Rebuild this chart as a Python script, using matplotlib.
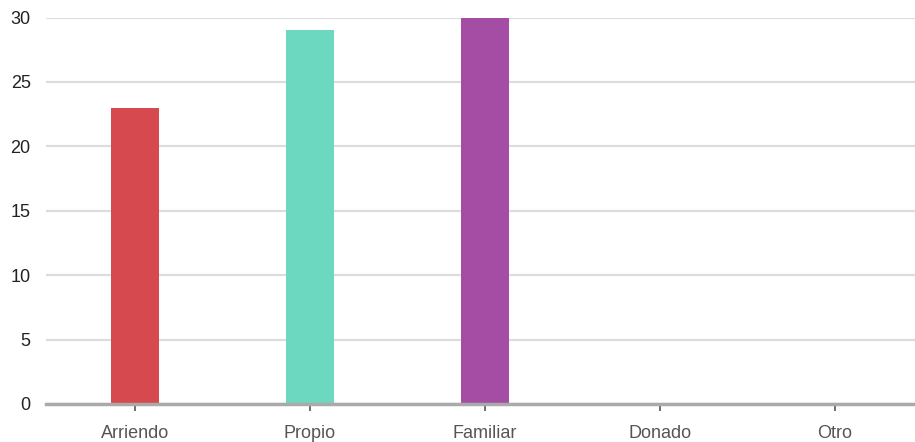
import matplotlib
matplotlib.use("Agg")
import matplotlib.pyplot as plt

categories = ["Arriendo", "Propio", "Familiar", "Donado", "Otro"]
values = [23, 29, 30, 0, 0]
colors = ["#d64a4f", "#6cd8c0", "#a54ca5", "#3366cc", "#ff9900"]
yticks = [0, 5, 10, 15, 20, 25, 30]

plt.rcParams['font.family'] = ['Liberation Sans', 'DejaVu Sans']
fig = plt.figure(figsize=(9.15, 4.42), dpi=100)
ax = fig.add_axes([46/915, 1-404/442, 1-46/915, (404-17.5)/442])

x = list(range(len(categories)))
ax.bar(x, values, width=0.275, color=colors, zorder=3)

ax.set_xlim(-0.509, 4.457)
ax.set_ylim(0, 30)
ax.set_yticks(yticks)
ax.set_xticks(x)
ax.set_xticklabels(categories, color="#555555", fontsize=13)
ax.set_yticklabels([str(v) for v in yticks], color="#222222", fontsize=13)

ax.grid(axis='y', color="#dddddd", linewidth=1.6, zorder=0)
ax.set_axisbelow(True)
for s in ['top', 'right', 'left']:
    ax.spines[s].set_visible(False)
ax.spines['bottom'].set_color("#aaaaaa")
ax.spines['bottom'].set_linewidth(2.5)
ax.spines['bottom'].set_zorder(4)
ax.tick_params(axis='y', length=0, pad=11)
ax.tick_params(axis='x', length=5, width=1.2, color="#555555", pad=10)

fig.savefig("out.png", dpi=100)
